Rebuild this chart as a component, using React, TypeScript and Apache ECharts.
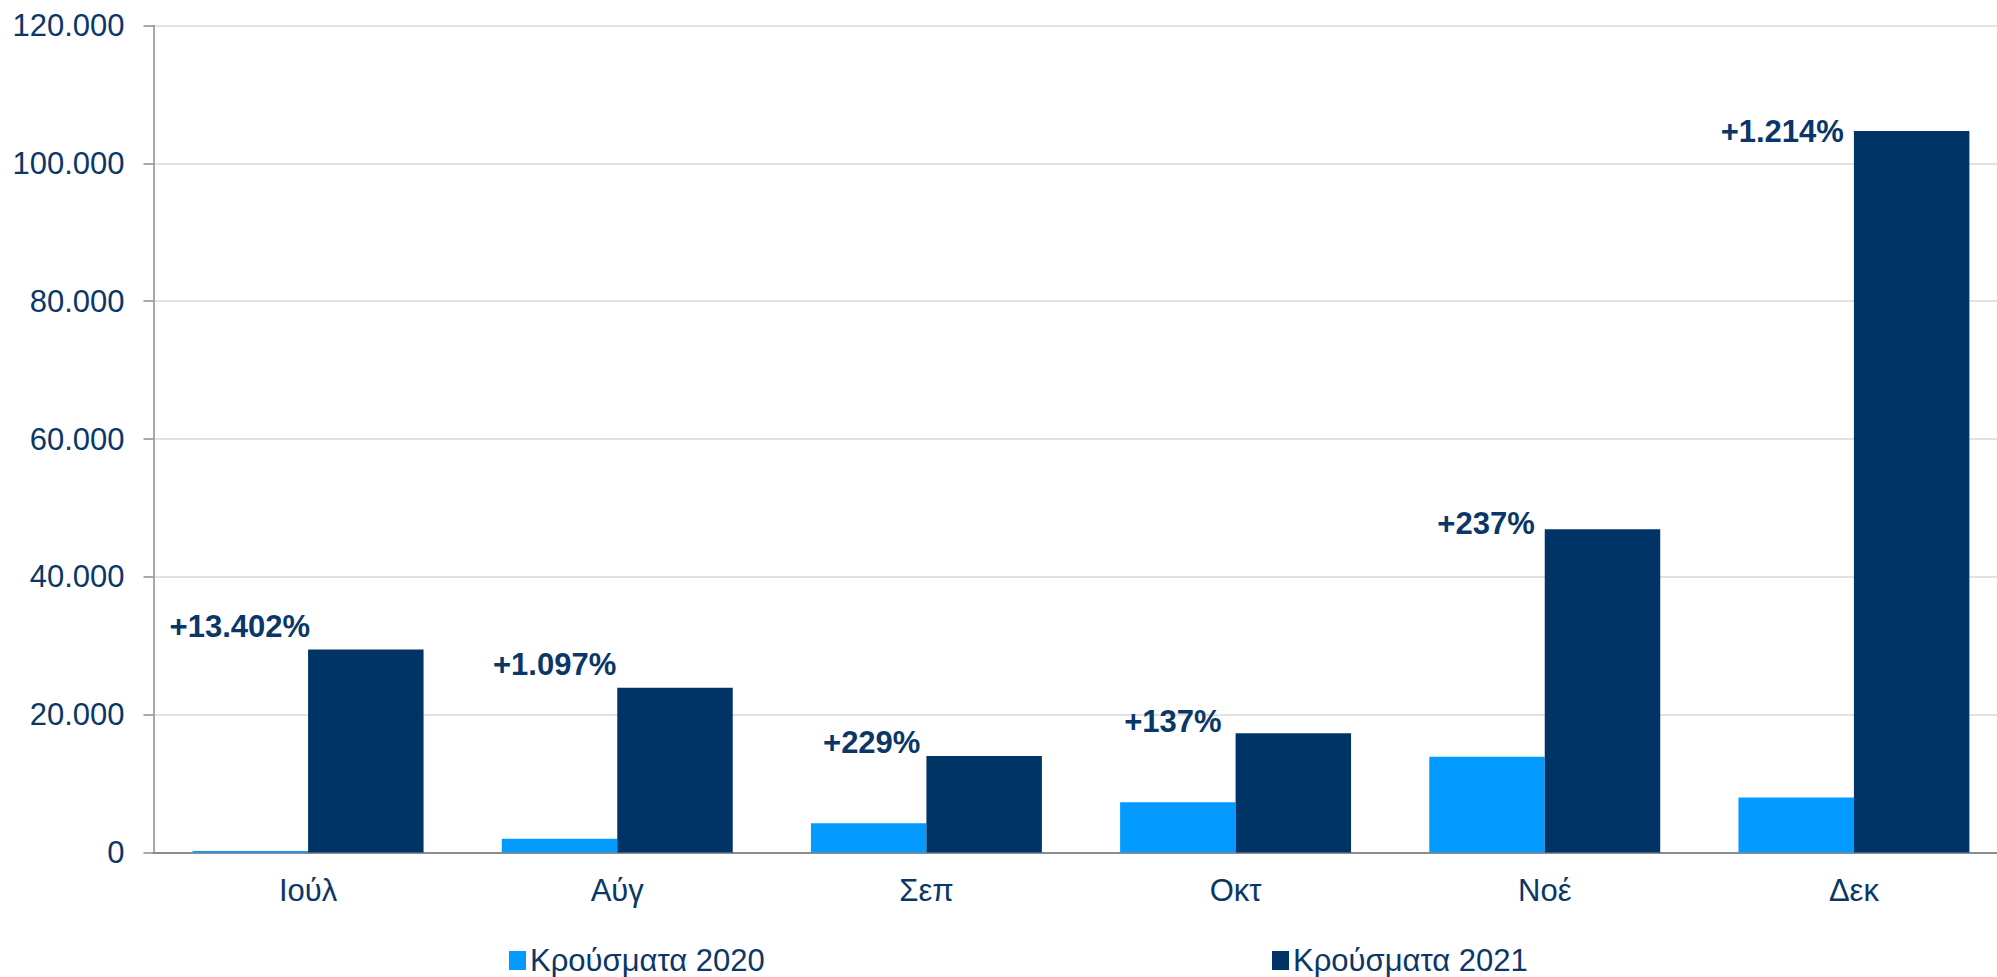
import React, { useEffect, useRef } from "react";
import * as echarts from "echarts";

const categories = ["Ιούλ", "Αύγ", "Σεπ", "Οκτ", "Νοέ", "Δεκ"];
const cases2020 = [218, 2000, 4250, 7300, 13900, 7970];
const cases2021 = [29450, 23900, 14000, 17300, 46900, 104700];
const changeLabels = ["+13.402%", "+1.097%", "+229%", "+137%", "+237%", "+1.214%"];
const yTicks = { min: 0, max: 120000, interval: 20000 };
const seriesNames = ["Κρούσματα 2020", "Κρούσματα 2021"];

// label placement (styling only): offset of label from top-left of the 2021 bar
const labelOffsets: [number, number][] = [
  [2, -23],
  [-1, -23],
  [-6, -14],
  [-14, -12],
  [-10, -6],
  [-10, 1],
];

const FONT = "'Liberation Sans', Arial, sans-serif";
const TEXT = "#0B3768";
const LIGHT = "#039BFF";
const DARK = "#003466";

const fmt = (v: number) => String(v).replace(/\B(?=(\d{3})+(?!\d))/g, ".");

export default function App() {
  const ref = useRef<HTMLDivElement>(null);
  useEffect(() => {
    if (!ref.current) return;
    const chart = echarts.init(ref.current, undefined, { renderer: "svg" });
    chart.setOption({
      animation: false,
      backgroundColor: "#ffffff",
      textStyle: { fontFamily: FONT },
      grid: {
        left: 153.5,
        right: -11.5,
        top: 25.5,
        bottom: 124.5,
        containLabel: false,
        outerBoundsMode: "none",
      },
      legend: [
        {
          data: [seriesNames[0]],
          left: 504,
          top: 940,
          itemWidth: 17,
          itemHeight: 19,
          itemGap: 0,
          icon: "rect",
          textStyle: { fontSize: 31, color: TEXT, fontFamily: FONT, padding: [0, 0, 0, -1] },
        },
        {
          data: [seriesNames[1]],
          left: 1267,
          top: 940,
          itemWidth: 17,
          itemHeight: 19,
          itemGap: 0,
          icon: "rect",
          textStyle: { fontSize: 31, color: TEXT, fontFamily: FONT, padding: [0, 0, 0, -1] },
        },
      ],
      xAxis: {
        type: "category",
        data: categories,
        axisLine: { show: true, lineStyle: { color: "#8c8c8c", width: 2 } },
        axisTick: { show: false },
        axisLabel: { color: TEXT, fontSize: 31, fontFamily: FONT, margin: 22 },
        splitLine: { show: false },
      },
      yAxis: {
        type: "value",
        min: yTicks.min,
        max: yTicks.max,
        interval: yTicks.interval,
        axisLine: { show: true, lineStyle: { color: "#8c8c8c", width: 1.5 } },
        axisTick: { show: true, inside: false, length: 10, lineStyle: { color: "#8c8c8c", width: 1.5 } },
        axisLabel: { color: TEXT, fontSize: 31, fontFamily: FONT, margin: 29, formatter: (v: number) => fmt(v) },
        splitLine: { show: true, lineStyle: { color: "#d9d9d9", width: 1.5 } },
      },
      series: [
        {
          name: seriesNames[0],
          type: "bar",
          data: cases2020,
          itemStyle: { color: LIGHT },
          barGap: "0%",
          barCategoryGap: "25.3%",
        },
        {
          name: seriesNames[1],
          type: "bar",
          data: cases2021.map((v, i) => ({
            value: v,
            label: { offset: labelOffsets[i] },
          })),
          itemStyle: { color: DARK },
          barGap: "0%",
          barCategoryGap: "25.3%",
          label: {
            show: true,
            position: [0, 0],
            align: "right",
            verticalAlign: "middle",
            fontSize: 31,
            fontWeight: "bold",
            fontFamily: FONT,
            color: TEXT,
            formatter: (p: any) => changeLabels[p.dataIndex],
          },
        },
      ],
    });
    return () => chart.dispose();
  }, []);
  return (
    <div
      ref={ref}
      style={{ position: "fixed", left: 0, top: 0, width: 1997, height: 977, overflow: "hidden" }}
    />
  );
}
